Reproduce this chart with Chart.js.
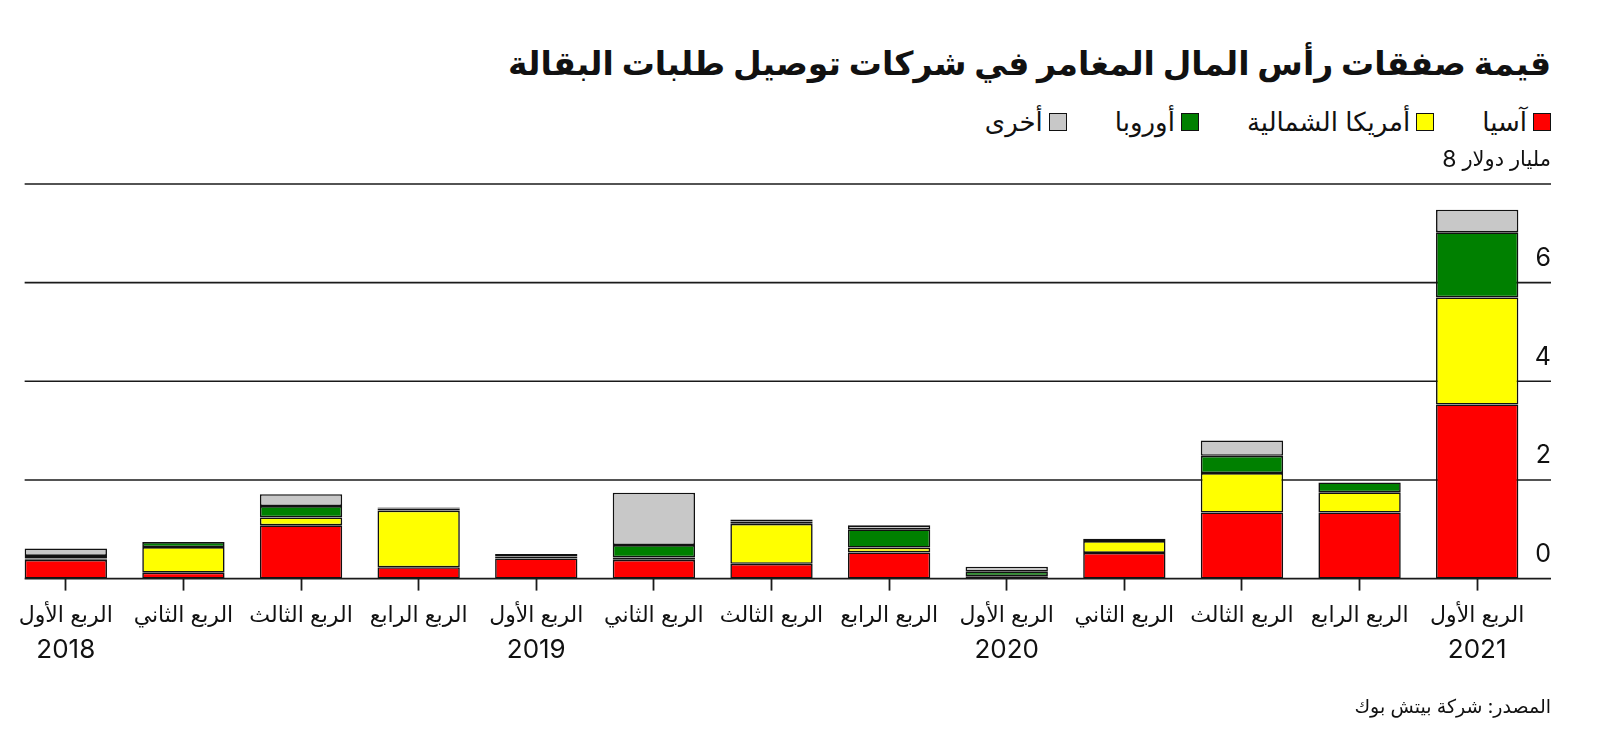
<!DOCTYPE html>
<html lang="ar" dir="rtl">
<head>
<meta charset="utf-8">
<script src="https://cdn.jsdelivr.net/npm/chart.js@4.4.1/dist/chart.umd.min.js"></script>
<style>
html, body { margin: 0; padding: 0; background: #fff; }
body { width: 1600px; height: 742px; position: relative; overflow: hidden; font-family: Inter, 'DejaVu Sans', sans-serif; color: #111; }
#titulo { position: absolute; right: 49px; top: 40px; margin: 0; font-size: 33px; font-weight: bold; line-height: 46px; white-space: nowrap; }
#legenda { position: absolute; right: 49px; top: 105px; display: flex; gap: 48px; font-size: 26px; line-height: 34px; white-space: nowrap; }
.item { display: flex; align-items: center; gap: 6px; }
.caixa { width: 16px; height: 16px; border: 1.5px solid #111; }
#fonte { position: absolute; right: 49px; top: 693px; font-size: 19px; line-height: 28px; }
#area { position: absolute; left: 0; top: 0; width: 1600px; height: 742px; }
</style>
</head>
<body>
<h1 id="titulo">قيمة صفقات رأس المال المغامر في شركات توصيل طلبات البقالة</h1>
<div id="legenda">
    <div class="item"><span class="caixa" style="background:#ff0000"></span>آسيا</div>
    <div class="item"><span class="caixa" style="background:#ffff00"></span>أمريكا الشمالية</div>
    <div class="item"><span class="caixa" style="background:#008000"></span>أوروبا</div>
    <div class="item"><span class="caixa" style="background:#c8c8c8"></span>أخرى</div>
</div>
<div id="area" dir="ltr"><canvas id="grafico"></canvas></div>
<div id="fonte">المصدر: شركة بيتش بوك</div>

<script>
// dados (bilhões de dólares)
const trimestres = ['الربع الأول', 'الربع الثاني', 'الربع الثالث', 'الربع الرابع',
    'الربع الأول', 'الربع الثاني', 'الربع الثالث', 'الربع الرابع',
    'الربع الأول', 'الربع الثاني', 'الربع الثالث', 'الربع الرابع',
    'الربع الأول'];
const anos = ['2018', '', '', '', '2019', '', '', '', '2020', '', '', '', '2021'];

const asia = [0.38, 0.12, 1.08, 0.23, 0.41, 0.38, 0.30, 0.53, 0.03, 0.52, 1.34, 1.34, 3.53];
const americaNorte = [0.03, 0.52, 0.16, 1.15, 0.04, 0.05, 0.81, 0.10, 0.02, 0.24, 0.80, 0.41, 2.17];
const europa = [0.05, 0.10, 0.23, 0.04, 0.05, 0.25, 0.05, 0.37, 0.09, 0.05, 0.35, 0.20, 1.32];
const outros = [0.15, 0, 0.24, 0.02, 0, 1.06, 0.04, 0.08, 0.10, 0, 0.31, 0, 0.46];

const ticksY = [0, 2, 4, 6, 8];
const rotulosY = ['0', '2', '4', '6', '8'];
const unidade = 'مليار دولار';

const fonteBase = "Inter, 'DejaVu Sans', sans-serif";
Chart.defaults.font.family = fonteBase;
Chart.defaults.color = '#111';

function linhaY(chart, v) {
    const { ctx, chartArea, scales: { x, y } } = chart;
    const meia = (x.getPixelForValue(1) - x.getPixelForValue(0)) * 0.35;
    const py = y.getPixelForValue(v);
    ctx.beginPath();
    ctx.moveTo(x.getPixelForValue(0) - meia, py);
    ctx.lineTo(chartArea.right + 15, py);
    ctx.stroke();
}

// linhas horizontais, rótulos do eixo y (acima de cada linha) e anos
const gradeY = {
    id: 'gradeY',
    beforeDatasetsDraw(chart) {
        const ctx = chart.ctx;
        ctx.save();
        ctx.strokeStyle = '#1a1a1a';
        ctx.lineWidth = 1.6;
        ticksY.filter(v => v !== 0).forEach(v => linhaY(chart, v));
        ctx.restore();
    },
    afterDatasetsDraw(chart) {
        const ctx = chart.ctx;
        ctx.save();
        ctx.strokeStyle = '#1a1a1a';
        ctx.lineWidth = 1.8;
        linhaY(chart, 0);
        ctx.restore();
    },
    afterDraw(chart) {
        const { ctx, chartArea, scales: { x, y } } = chart;
        const xDir = chartArea.right + 15;
        ctx.save();
        ctx.textAlign = 'right';
        ctx.textBaseline = 'middle';
        ctx.fillStyle = '#111';
        ticksY.forEach((v, i) => {
            const py = y.getPixelForValue(v) - 24;
            if (i === ticksY.length - 1) {
                // "8 مليار دولار": o número fica à esquerda
                ctx.font = '21px ' + fonteBase;
                ctx.fillText(unidade, xDir, py);
                const larg = ctx.measureText(unidade).width;
                ctx.font = '23px ' + fonteBase;
                ctx.fillText(rotulosY[i], xDir - larg - 6, py);
            } else {
                ctx.font = '25px ' + fonteBase;
                ctx.fillText(rotulosY[i], xDir, py);
            }
        });
        // anos abaixo do primeiro trimestre
        ctx.textAlign = 'center';
        ctx.font = '26px ' + fonteBase;
        anos.forEach((ano, i) => {
            if (ano) ctx.fillText(ano, x.getPixelForValue(i), chartArea.bottom + 72);
        });
        ctx.restore();
    }
};

const estiloBarra = {
    borderColor: '#111',
    borderWidth: 1.6,
    borderSkipped: false,
    categoryPercentage: 1,
    barPercentage: 0.7
};

new Chart(document.getElementById('grafico'), {
    type: 'bar',
    data: {
        labels: trimestres,
        datasets: [
            { label: 'آسيا', data: asia, backgroundColor: '#ff0000', ...estiloBarra },
            { label: 'أمريكا الشمالية', data: americaNorte, backgroundColor: '#ffff00', ...estiloBarra },
            { label: 'أوروبا', data: europa, backgroundColor: '#008000', ...estiloBarra },
            { label: 'أخرى', data: outros, backgroundColor: '#c8c8c8', ...estiloBarra }
        ]
    },
    options: {
        responsive: true,
        maintainAspectRatio: false,
        animation: false,
        layout: { padding: { top: 184, left: 7, right: 64, bottom: 101 } },
        plugins: {
            legend: { display: false },
            tooltip: { enabled: false }
        },
        scales: {
            x: {
                stacked: true,
                offset: true,
                grid: {
                    display: true,
                    drawOnChartArea: false,
                    offset: false,
                    tickLength: 12,
                    tickWidth: 1.8,
                    tickColor: '#1a1a1a'
                },
                border: { display: false },
                ticks: { font: { size: 22 }, color: '#111', padding: 12, maxRotation: 0, autoSkip: false }
            },
            y: {
                stacked: true,
                display: false,
                min: 0,
                max: 8
            }
        }
    },
    plugins: [gradeY]
});
</script>
</body>
</html>
